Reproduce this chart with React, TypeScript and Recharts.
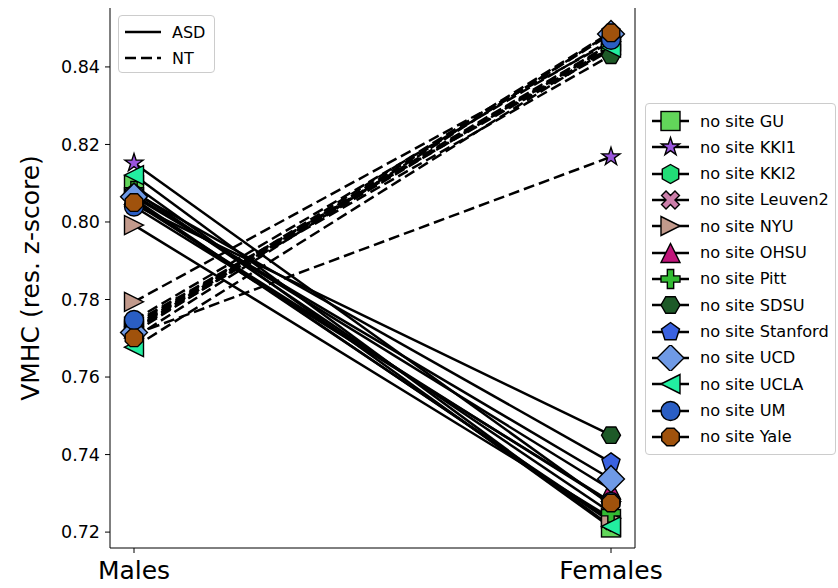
import React from 'react';
import { LineChart, Line, XAxis, YAxis } from 'recharts';

const categories = ['Males', 'Females'];
const sites = ['GU', 'KKI1', 'KKI2', 'Leuven2', 'NYU', 'OHSU', 'Pitt', 'SDSU', 'Stanford', 'UCD', 'UCLA', 'UM', 'Yale'];
const markerKinds = ['s', '*', 'h', 'X', '>', '^', 'P', 'H', 'p', 'D', '<', 'o', '8'];
const markerColors = ['#62d65a', '#9955dd', '#22dd77', '#cc7faa', '#c29a8c', '#c0157a', '#33bb33', '#1e5a28', '#3a62e0', '#6f9ae6', '#22eea0', '#2a5ec4', '#a0520c'];

// ASD (solid) and NT (dashed), Males -> Females
const asdMales = [0.8095, 0.8152, 0.806, 0.8055, 0.7992, 0.807, 0.808, 0.8045, 0.8075, 0.8065, 0.8121, 0.804, 0.805];
const asdFemales = [0.7212, 0.727, 0.7226, 0.723, 0.7236, 0.731, 0.725, 0.745, 0.738, 0.7337, 0.7215, 0.7278, 0.7275];
const ntMales = [0.773, 0.771, 0.774, 0.772, 0.7794, 0.7725, 0.7735, 0.773, 0.7722, 0.7715, 0.7677, 0.7747, 0.7701];
const ntFemales = [0.846, 0.8168, 0.8444, 0.8455, 0.8465, 0.8458, 0.845, 0.843, 0.849, 0.8485, 0.845, 0.847, 0.8488];

const yTicks = [0.72, 0.74, 0.76, 0.78, 0.8, 0.82, 0.84];

const data = categories.map((cat, ci) => {
  const row: Record<string, any> = { cat };
  sites.forEach((s, i) => {
    row[`${s}_ASD`] = ci === 0 ? asdMales[i] : asdFemales[i];
    row[`${s}_NT`] = ci === 0 ? ntMales[i] : ntFemales[i];
  });
  return row;
});

const FONT = '"DejaVu Sans", sans-serif';
const MS = 19;

const poly = (cx: number, cy: number, pts: number[][]) =>
  pts.map(([x, y]) => `${(cx + x).toFixed(2)},${(cy + y).toFixed(2)}`).join(' ');

const regular = (n: number, r: number, rot: number) => {
  const pts: number[][] = [];
  for (let k = 0; k < n; k++) {
    const a = rot + (k * 2 * Math.PI) / n - Math.PI / 2;
    pts.push([r * Math.cos(a), r * Math.sin(a)]);
  }
  return pts;
};

const Marker = ({ kind, cx, cy, fill }: { kind: string; cx: number; cy: number; fill: string }) => {
  const r = MS / 2;
  const common = { fill, stroke: '#000', strokeWidth: 1.4, strokeLinejoin: 'miter' as const };
  if (kind === 'o') return <circle cx={cx} cy={cy} r={r} {...common} />;
  if (kind === 's') return <rect x={cx - r} y={cy - r} width={MS} height={MS} {...common} />;
  let pts: number[][] = [];
  if (kind === 'D') pts = [[0, -r * 1.414], [r * 1.414, 0], [0, r * 1.414], [-r * 1.414, 0]];
  else if (kind === '^') pts = [[0, -r], [r, r], [-r, r]];
  else if (kind === '>') pts = [[r, 0], [-r, -r], [-r, r]];
  else if (kind === '<') pts = [[-r, 0], [r, -r], [r, r]];
  else if (kind === 'p') pts = regular(5, r, 0);
  else if (kind === 'h') pts = regular(6, r, 0);
  else if (kind === 'H') pts = regular(6, r, Math.PI / 6);
  else if (kind === '8') pts = regular(8, r, Math.PI / 8);
  else if (kind === '*') {
    for (let k = 0; k < 10; k++) {
      const rr = k % 2 === 0 ? r : r * 0.381966;
      const a = (k * Math.PI) / 5 - Math.PI / 2;
      pts.push([rr * Math.cos(a), rr * Math.sin(a)]);
    }
  } else if (kind === 'P' || kind === 'X') {
    const u = MS / 6;
    const base = [[-1, -3], [1, -3], [1, -1], [3, -1], [3, 1], [1, 1], [1, 3], [-1, 3], [-1, 1], [-3, 1], [-3, -1], [-1, -1]];
    const ang = kind === 'X' ? Math.PI / 4 : 0;
    pts = base.map(([x, y]) => [
      u * (x * Math.cos(ang) - y * Math.sin(ang)),
      u * (x * Math.sin(ang) + y * Math.cos(ang)),
    ]);
  }
  return <polygon points={poly(cx, cy, pts)} {...common} />;
};

const YLabel = (props: any) => {
  const vb = props.viewBox;
  const x = vb.x + 30;
  const y = vb.y + vb.height / 2;
  return (
    <text x={x} y={y} transform={`rotate(-90 ${x} ${y})`} textAnchor="middle" dominantBaseline="central"
      fontFamily={FONT} fontSize={25} fill="#000">
      VMHC (res. z-score)
    </text>
  );
};

const SiteLegend = () => (
  <div style={{ position: 'absolute', left: 645, top: 103, width: 191, height: 352, border: '1px solid #cccccc', borderRadius: 4, background: 'rgba(255,255,255,0.8)', boxSizing: 'border-box' }}>
    {sites.map((s, i) => (
      <div key={s} style={{ position: 'absolute', left: 0, top: 4 + i * 26.33, height: 26, display: 'flex', alignItems: 'center' }}>
        <svg width={50} height={26} style={{ display: 'block' }}>
          <line x1={6} x2={43} y1={13} y2={13} stroke="#000" strokeWidth={2.5} />
          <Marker kind={markerKinds[i]} cx={24.5} cy={13} fill={markerColors[i]} />
        </svg>
        <span style={{ fontFamily: FONT, fontSize: 16.2, marginLeft: 4, whiteSpace: 'nowrap', color: '#000' }}>no site {s}</span>
      </div>
    ))}
  </div>
);

const StyleLegend = () => (
  <div style={{ position: 'absolute', left: 118, top: 15, width: 97, height: 58, border: '1px solid #cccccc', borderRadius: 4, background: 'rgba(255,255,255,0.8)', boxSizing: 'border-box' }}>
    {['ASD', 'NT'].map((g, i) => (
      <div key={g} style={{ position: 'absolute', left: 0, top: 3 + i * 26, height: 26, display: 'flex', alignItems: 'center' }}>
        <svg width={48} height={26} style={{ display: 'block' }}>
          <line x1={6} x2={42} y1={13} y2={13} stroke="#000" strokeWidth={2.5} strokeDasharray={i === 1 ? '11 5' : undefined} />
        </svg>
        <span style={{ fontFamily: FONT, fontSize: 16, marginLeft: 5, color: '#000' }}>{g}</span>
      </div>
    ))}
  </div>
);

export default function App() {
  return (
    <div style={{ position: 'absolute', left: 0, top: 0, width: 838, height: 588, background: '#fff' }}>
      <LineChart width={838} height={588} data={data} margin={{ top: 8, right: 202, bottom: 0, left: 0 }}>
        <XAxis dataKey="cat" padding={{ left: 24, right: 24 }} height={40} tickSize={5} tickMargin={8}
          stroke="#000" tick={{ fill: '#000', fontSize: 25, fontFamily: FONT }} />
        <XAxis xAxisId="top" orientation="top" dataKey="cat" height={0} tick={false} tickLine={false} stroke="#000" />
        <YAxis type="number" domain={[0.7159, 0.8552]} ticks={yTicks} width={110} tickSize={5} tickMargin={5}
          allowDataOverflow stroke="#000" tickFormatter={(v: number) => v.toFixed(2)}
          tick={{ fill: '#000', fontSize: 17.5, fontFamily: FONT }} label={YLabel} />
        <YAxis yAxisId="right" orientation="right" width={1} tick={false} tickLine={false} stroke="#000" />
        {sites.map((s, i) =>
          ['ASD', 'NT'].map((g) => (
            <Line
              key={`${s}_${g}`}
              dataKey={`${s}_${g}`}
              stroke="#000"
              strokeWidth={2.5}
              strokeDasharray={g === 'NT' ? '11 5' : undefined}
              isAnimationActive={false}
              activeDot={false}
              dot={(p: any) => (
                <Marker key={`${s}_${g}_${p.index}`} kind={markerKinds[i]} cx={p.cx} cy={p.cy} fill={markerColors[i]} />
              )}
            />
          ))
        )}
      </LineChart>
      <StyleLegend />
      <SiteLegend />
    </div>
  );
}
